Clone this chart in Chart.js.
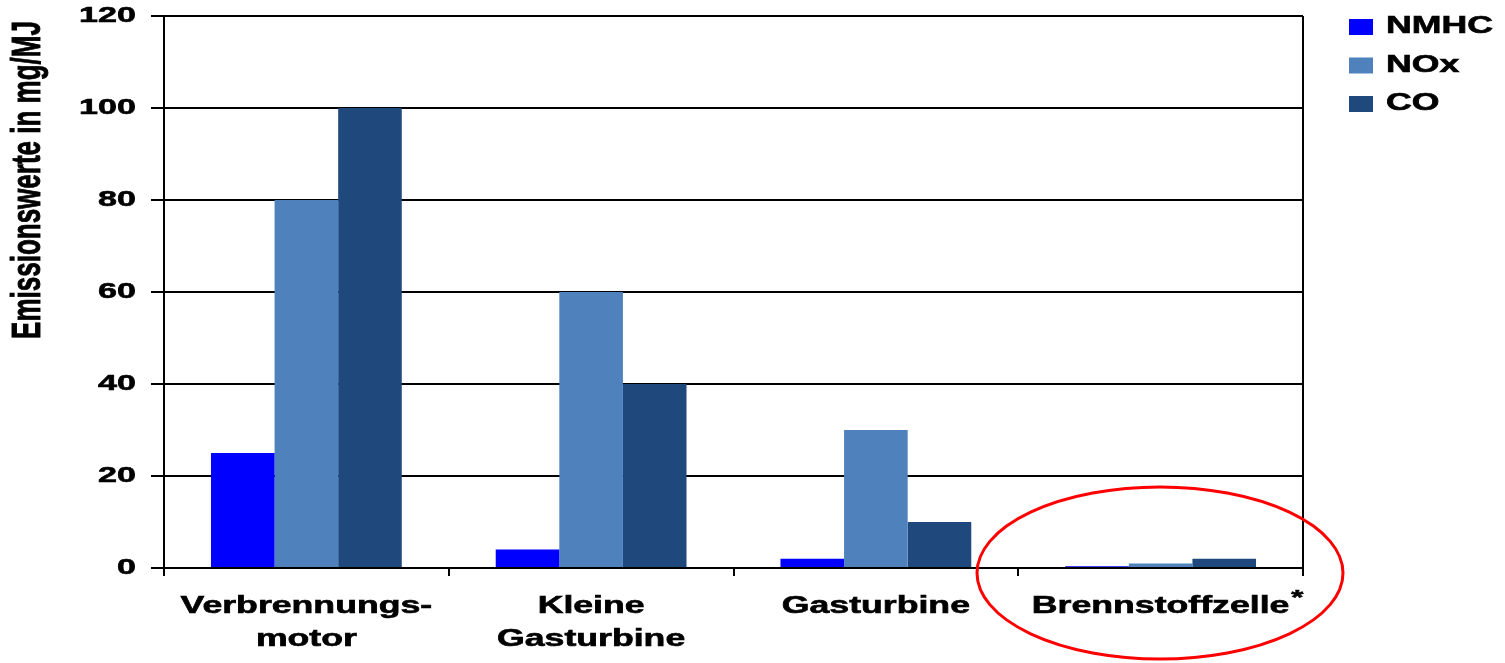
<!DOCTYPE html>
<html>
<head>
<meta charset="utf-8">
<script src="https://cdn.jsdelivr.net/npm/chart.js@4/dist/chart.umd.min.js"></script>
<style>
  html, body { margin: 0; padding: 0; background: #fff; }
  #wrap { width: 1505px; height: 663px; position: relative; }
</style>
</head>
<body>
<div id="wrap"><canvas id="chart"></canvas></div>
<script>
// Emissionswerte nach Technologie
const categories = [["Verbrennungs-", "motor"], ["Kleine", "Gasturbine"], ["Gasturbine"], ["Brennstoffzelle"]];
const seriesNames = ["NMHC", "NOx", "CO"];
const nmhc = [25, 4, 2, 0.4];
const nox = [80, 60, 30, 1];
const co = [100, 40, 10, 2];
const yTicks = [0, 20, 40, 60, 80, 100, 120];
const yTitle = "Emissionswerte in mg/MJ";

const colors = ["#0000FF", "#4F81BD", "#1F497D"];
const FONT = '"Liberation Sans", Arial, sans-serif';
const SX = 1.55; // the original text is stretched sideways

function stretchText(ctx, txt, x, y, size, align, rot) {
  ctx.save();
  ctx.translate(x, y);
  ctx.scale(SX, 1);
  if (rot) ctx.rotate(rot);
  ctx.font = "bold " + size + "px " + FONT;
  ctx.textAlign = align;
  ctx.textBaseline = "middle";
  ctx.fillStyle = "#000";
  ctx.strokeStyle = "#000";
  ctx.lineWidth = 0.6;
  ctx.fillText(txt, 0, 0);
  ctx.strokeText(txt, 0, 0);
  ctx.restore();
}

const decor = {
  id: "decor",
  afterDraw(chart) {
    const ctx = chart.ctx;
    const area = chart.chartArea;
    const ys = chart.scales.y, xs = chart.scales.x;

    // right frame line
    ctx.save();
    ctx.strokeStyle = "#000";
    ctx.lineWidth = 2;
    ctx.beginPath();
    ctx.moveTo(area.right, area.top);
    ctx.lineTo(area.right, area.bottom);
    ctx.stroke();
    ctx.restore();

    // y tick labels
    ys.ticks.forEach(t => {
      stretchText(ctx, String(t.value), 136, ys.getPixelForValue(t.value), 22, "right");
    });

    // y title
    stretchText(ctx, yTitle, 29, 180, 26, "center", -Math.PI / 2);

    // x labels
    categories.forEach((lines, i) => {
      const cx = xs.getPixelForValue(i);
      lines.forEach((ln, j) => stretchText(ctx, ln, cx, 607 + j * 33, 23, "center"));
      if (i === categories.length - 1) {
        ctx.save();
        ctx.font = "bold 23px " + FONT;
        const w = ctx.measureText(lines[0]).width * SX;
        ctx.restore();
        stretchText(ctx, "*", cx + w / 2 + 8, 598, 20, "center");
      }
    });

    // legend
    seriesNames.forEach((name, i) => {
      const cy = 27 + i * 38.5;
      ctx.fillStyle = colors[i];
      ctx.fillRect(1349, cy - 8, 24, 16);
      stretchText(ctx, name, 1386, cy, 23, "left");
    });

    // red highlight ellipse
    ctx.save();
    ctx.strokeStyle = "#FF0000";
    ctx.lineWidth = 3;
    ctx.beginPath();
    ctx.ellipse(1160, 573, 183, 86, 0, 0, Math.PI * 2);
    ctx.stroke();
    ctx.restore();
  }
};

const datasets = [nmhc, nox, co].map((d, i) => ({
  label: seriesNames[i],
  data: d,
  backgroundColor: colors[i],
  borderWidth: 0,
  barPercentage: 1.0,
  categoryPercentage: 0.67
}));

new Chart(document.getElementById("chart"), {
  type: "bar",
  data: { labels: categories.map(c => c.join(" ")), datasets },
  options: {
    responsive: true,
    maintainAspectRatio: false,
    animation: false,
    layout: { padding: { left: 0, right: 202, top: 16, bottom: 0 } },
    plugins: { legend: { display: false }, tooltip: { enabled: false } },
    scales: {
      x: {
        offset: true,
        ticks: { display: false },
        grid: { display: true, offset: true, drawOnChartArea: false, color: "#000", lineWidth: 2, tickLength: 8 },
        border: { display: true, color: "#000", width: 2 },
        afterFit: s => { s.height = 95; }
      },
      y: {
        min: 0,
        max: 120,
        afterBuildTicks: s => { s.ticks = yTicks.map(v => ({ value: v })); },
        ticks: { display: false },
        grid: { color: "#000", lineWidth: 2, tickLength: 13 },
        border: { display: true, color: "#000", width: 2 },
        afterFit: s => { s.width = 164; }
      }
    }
  },
  plugins: [decor]
});
</script>
</body>
</html>
